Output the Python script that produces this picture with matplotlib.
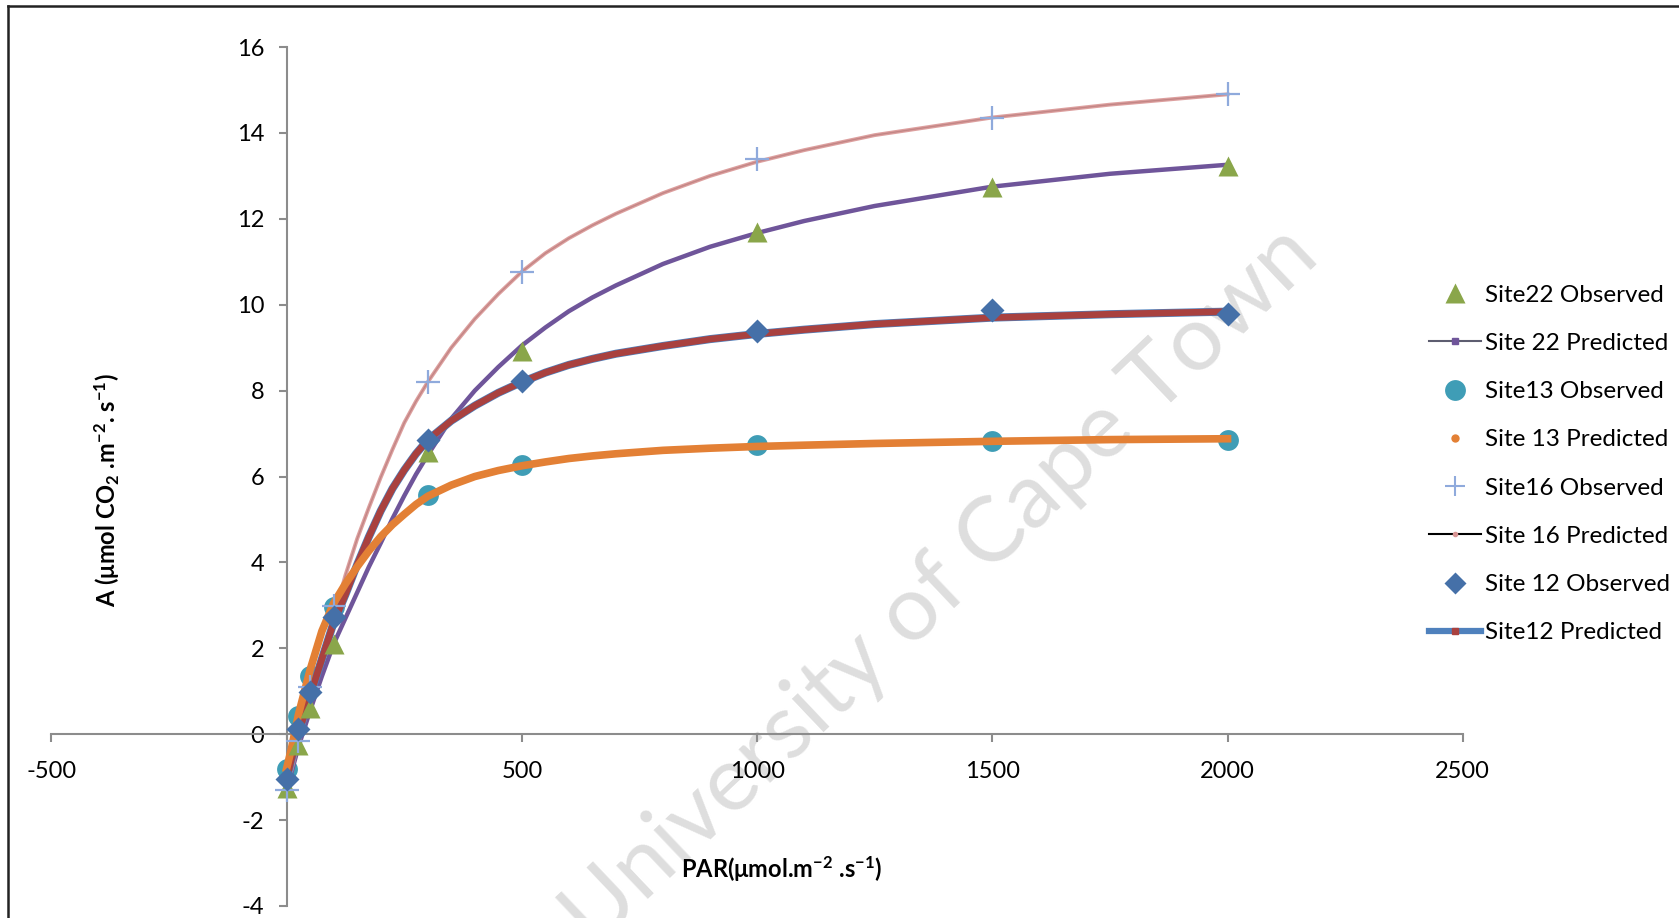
import matplotlib
matplotlib.use("Agg")
import matplotlib.pyplot as plt
from matplotlib.lines import Line2D

plt.rcParams['font.family'] = ['Lato', 'DejaVu Sans']
plt.rcParams['axes.unicode_minus'] = False
plt.rcParams['mathtext.fontset'] = 'custom'
plt.rcParams['mathtext.rm'] = 'Lato'
plt.rcParams['mathtext.bf'] = 'Lato:bold'
plt.rcParams['mathtext.default'] = 'bf'

# === OBSERVED DATA ===
par_obs = [0, 25, 50, 100, 300, 500, 1000, 1500, 2000]
site22_obs = [-1.25, -0.25, 0.62, 2.1, 6.57, 8.93, 11.7, 12.75, 13.24]
site13_obs = [-0.8, 0.42, 1.36, 2.96, 5.56, 6.28, 6.74, 6.83, 6.86]
site16_obs = [-1.3, -0.15, 1.1, 2.98, 8.19, 10.77, 13.4, 14.34, 14.9]
site12_obs = [-1.05, 0.12, 0.98, 2.73, 6.85, 8.22, 9.38, 9.88, 9.78]

# === PREDICTED ===
par_pred = [0, 10, 25, 50, 75, 100, 125, 150, 175, 200, 225, 250, 275, 300, 350,
            400, 450, 500, 550, 600, 650, 700, 800, 900, 1000, 1100, 1250, 1500,
            1750, 2000]
site22_pred = [-1.25, -0.9, -0.3, 0.55, 1.35, 2.1, 2.7, 3.3, 3.9, 4.45, 5.02, 5.55,
               6.05, 6.5, 7.35, 8.0, 8.55, 9.05, 9.47, 9.85, 10.17, 10.45, 10.95,
               11.35, 11.67, 11.95, 12.3, 12.75, 13.05, 13.26]
site13_pred = [-0.8, -0.35, 0.45, 1.5, 2.4, 3.05, 3.5, 3.9, 4.27, 4.6, 4.88, 5.12,
               5.35, 5.54, 5.8, 6.0, 6.14, 6.25, 6.34, 6.42, 6.48, 6.53, 6.61, 6.66,
               6.70, 6.73, 6.77, 6.82, 6.86, 6.88]
site16_pred = [-1.3, -0.85, -0.2, 0.8, 1.8, 2.72, 3.7, 4.55, 5.28, 5.98, 6.63, 7.25,
               7.75, 8.2, 9.0, 9.67, 10.25, 10.77, 11.2, 11.55, 11.85, 12.12, 12.6,
               13.0, 13.33, 13.6, 13.95, 14.36, 14.66, 14.9]
site12_pred = [-1.05, -0.6, 0.0, 0.9, 1.75, 2.6, 3.25, 3.95, 4.6, 5.2, 5.72, 6.15,
               6.53, 6.85, 7.3, 7.65, 7.95, 8.2, 8.42, 8.6, 8.74, 8.86, 9.04, 9.2,
               9.32, 9.42, 9.55, 9.7, 9.78, 9.84]

# Colors
C_TRI = "#8AA64A"
C_CIRC = "#3F9DB6"
C_PLUS = "#8FAADC"
C_DIAM = "#4570A8"
C_PURPLE = "#6F559A"
C_ORANGE = "#E38035"
C_PINK = "#D99594"
C_RED = "#A9413F"
C_BLUE = "#4F81BD"
C_AXIS = "#8C8C8C"

fig = plt.figure(figsize=(16.79, 9.18), dpi=100)
ax = fig.add_axes([0.0306, 0.0131, 0.8406, 0.9356])

# watermark
ax.text(0.5605, 0.361, "University of Cape Town", transform=fig.transFigure,
        rotation=43.5, fontsize=66, color="#dedede", ha="center", va="center",
        zorder=0, clip_on=False)

# predicted curves
ax.plot(par_pred, site22_pred, color=C_PURPLE, lw=3.2, zorder=3)
ax.plot(par_pred, site16_pred, color="black", lw=1.0, zorder=3)
ax.plot(par_pred, site16_pred, color=C_PINK, lw=2.8, zorder=3, alpha=0.9)
ax.plot(par_pred, site12_pred, color=C_BLUE, lw=5.8, zorder=3)
ax.plot(par_pred, site12_pred, color=C_RED, lw=4.8, zorder=3)

# observed circles sit beneath the orange curve
ax.plot(par_obs, site13_obs, 'o', color=C_CIRC, ms=15, mec='none', zorder=2.5)
ax.plot(par_pred, site13_pred, color=C_ORANGE, lw=5.5, zorder=3.5)

ax.plot(par_obs, site22_obs, '^', color=C_TRI, ms=15, mec='none', zorder=5)
ax.plot(par_obs, site16_obs, '+', color=C_PLUS, ms=17, mew=1.6, zorder=5)
ax.plot(par_obs, site12_obs, 'D', color=C_DIAM, ms=12, mec='none', zorder=5)

# axes crossing at zero, Excel style
ax.set_xlim(-500, 2500)
ax.set_ylim(-4, 16)
ax.set_xticks(range(-500, 2501, 500))
ax.set_yticks(range(-4, 17, 2))
for side in ['top', 'right']:
    ax.spines[side].set_visible(False)
ax.spines['left'].set_position(('data', 0))
ax.spines['bottom'].set_position(('data', 0))
for side in ['left', 'bottom']:
    ax.spines[side].set_color(C_AXIS)
    ax.spines[side].set_linewidth(1.5)
ax.tick_params(axis='both', direction='out', length=6, width=1.5, color=C_AXIS,
               labelsize=17, labelcolor='black')
ax.tick_params(axis='x', pad=13)
ax.tick_params(axis='y', pad=10)
ax.patch.set_alpha(0)

fig.text(0.4655, 0.053, "PAR(μmol.m$^{-2}$ .s$^{-1}$)", fontsize=17, fontweight='bold',
         ha='center', va='center')
fig.text(0.064, 0.466, "A (μmol CO$_{2}$ .m$^{-2}$. s$^{-1}$)", fontsize=17,
         fontweight='bold', rotation=90, ha='center', va='center')

# legend
handles = [
    Line2D([], [], ls='none', marker='^', color=C_TRI, ms=14, mec='none'),
    Line2D([], [], color='#5D5D70', lw=1.5, marker='s', ms=4, mfc=C_PURPLE, mec=C_PURPLE),
    Line2D([], [], ls='none', marker='o', color=C_CIRC, ms=15, mec='none'),
    Line2D([], [], ls='none', marker='o', color=C_ORANGE, ms=6, mec='none'),
    Line2D([], [], ls='none', marker='+', color=C_PLUS, ms=15, mew=1.5),
    Line2D([], [], color='black', lw=1.5, marker='o', ms=3, mfc=C_PINK, mec=C_PINK),
    Line2D([], [], ls='none', marker='D', color=C_DIAM, ms=11, mec='none'),
    Line2D([], [], color=C_BLUE, lw=4.5, marker='s', ms=5, mfc=C_RED, mec=C_RED),
]
labels = ["Site22 Observed", "Site 22 Predicted", "Site13 Observed", "Site 13 Predicted",
          "Site16 Observed", "Site 16 Predicted", "Site 12 Observed", "Site12 Predicted"]
fig.legend(handles, labels, loc='center left', bbox_to_anchor=(0.851, 0.4946),
           frameon=False, fontsize=17.5, handlelength=2.15, handletextpad=0.15,
           labelspacing=1.12, borderpad=0, borderaxespad=0)

# outer frame (left and top edges visible in the crop)
fig.add_artist(Line2D([0.005, 0.005], [0.0, 0.9935], transform=fig.transFigure,
                      color='#222222', lw=1.8))
fig.add_artist(Line2D([0.005, 1.0], [0.9935, 0.9935], transform=fig.transFigure,
                      color='#222222', lw=1.8))

fig.savefig("out.png", dpi=100, facecolor='white')
